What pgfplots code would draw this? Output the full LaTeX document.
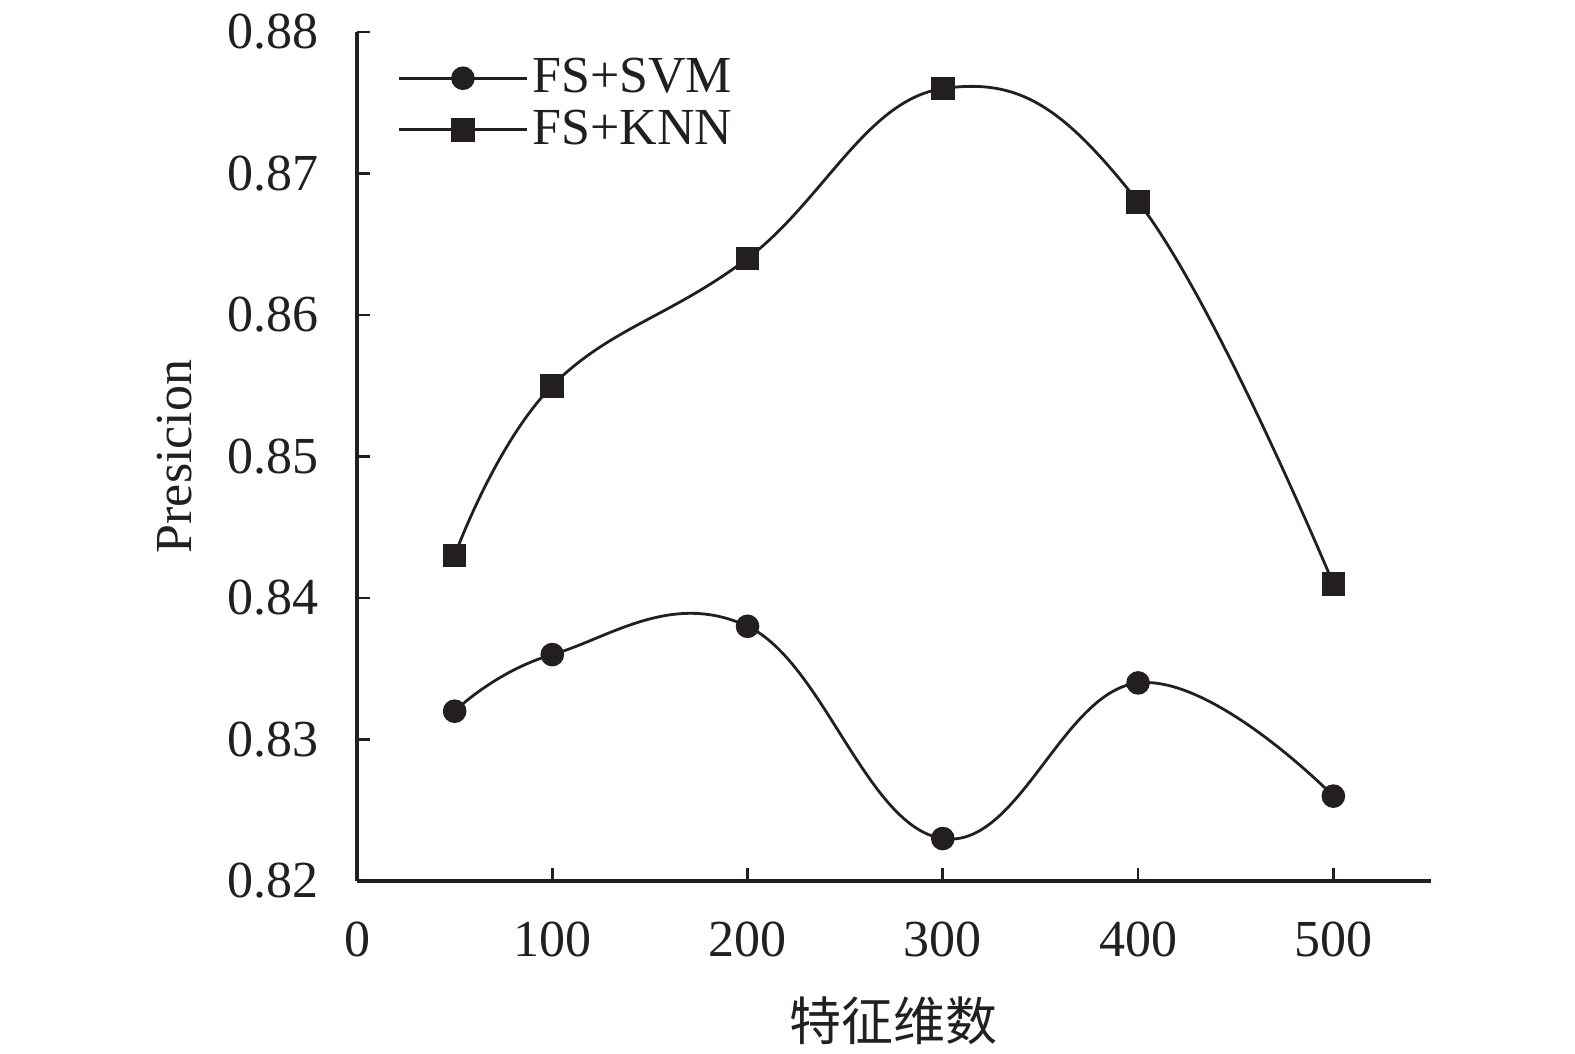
\documentclass[border=0pt]{standalone}
\usepackage{fontspec}
\setmainfont{Liberation Serif}
\newfontfamily\cjk{Noto Sans CJK SC}
\usepackage{pgfplots}
\pgfplotsset{compat=1.18}
\definecolor{ink}{HTML}{231F20}
\begin{document}
\begin{tikzpicture}[x=1pt,y=1pt]
\useasboundingbox (0,0) rectangle (393.75,263.25);
\begin{axis}[
  at={(89.25pt,43pt)}, anchor=origin,
  scale only axis, width=268.5pt, height=212.25pt,
  xmin=0, xmax=550, ymin=0.82, ymax=0.88,
  axis x line=bottom, axis y line=left,
  axis line style={-, line width=0.8pt, color=ink},
  tick align=inside, major tick length=3.2pt,
  tick style={line width=0.7pt, color=ink},
  xtick={0,100,200,300,400,500},
  ytick={0.82,0.83,0.84,0.85,0.86,0.87,0.88},
  yticklabel style={/pgf/number format/fixed, /pgf/number format/fixed zerofill, /pgf/number format/precision=2, xshift=-6pt},
  /pgf/number format/assume math mode=true,
  ticklabel style={font=\fontsize{13}{15}\selectfont, color=ink},
  xticklabel style={yshift=-6.8pt},
  xlabel={\cjk 特征维数}, ylabel={Presicion},
  label style={font=\fontsize{13}{15}\selectfont, color=ink},
  xlabel style={yshift=-3pt},
  ylabel style={yshift=2pt},
  legend style={draw=none, fill=none, at={(0.037,0.975)}, anchor=north west,
    inner sep=0pt, row sep=0.8pt, font=\fontsize{13}{15}\selectfont, text=ink,
    nodes={inner sep=1pt}},
  legend cell align=left,
  legend image code/.code={
    \draw[#1, mark repeat=2, mark phase=2] plot coordinates {(0pt,0pt) (16pt,0pt) (32pt,0pt)};
  },
]
\addplot[ink, line width=0.7pt, smooth, tension=0.7, mark=*, mark size=2.6pt,
  mark options={fill=ink, draw=ink}] coordinates {
  (50,0.832) (100,0.836) (200,0.838) (300,0.823) (400,0.834) (500,0.826)};
\addlegendentry{FS+SVM}
\addplot[ink, line width=0.7pt, smooth, tension=0.7, mark=square*, mark size=2.6pt,
  mark options={fill=ink, draw=ink}] coordinates {
  (50,0.843) (100,0.855) (200,0.864) (300,0.876) (400,0.868) (500,0.841)};
\addlegendentry{FS+KNN}
\end{axis}
\end{tikzpicture}
\end{document}
